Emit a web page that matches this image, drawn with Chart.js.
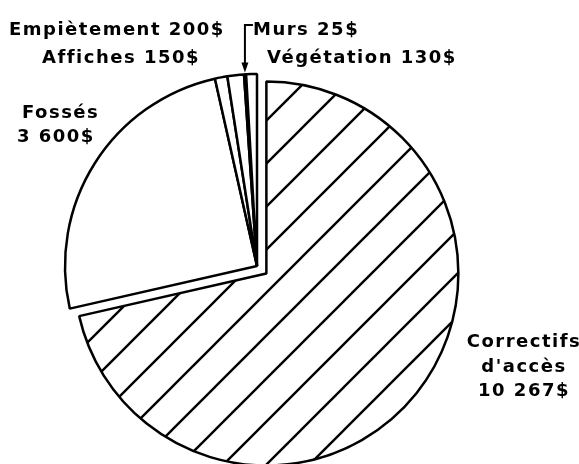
<!DOCTYPE html>
<html>
<head>
<meta charset="utf-8">
<script src="https://cdn.jsdelivr.net/npm/chart.js@4/dist/chart.umd.min.js"></script>
<style>
	html, body { margin: 0; padding: 0; background: #fff; }
	#wrap { width: 579px; height: 464px; }
</style>
</head>
<body>
<div id="wrap"><canvas id="myChart" width="579" height="464"></canvas></div>
<script>
const categories = ["Correctifs d'accès", "Fossés", "Affiches", "Empiètement", "Murs", "Végétation"];
const costs = [10267, 3600, 150, 200, 25, 130];
// label lines per slice, the amount is appended from costs
const labelLines = [["Correctifs", "d'accès"], ["Fossés"], ["Affiches"], ["Empiètement"], ["Murs"], ["Végétation"]];

const ctx = document.getElementById("myChart");
const FONT = "bold 18px 'DejaVu Sans'";

const money = (v) => String(v).replace(/\B(?=(\d{3})+(?!\d))/g, " ") + "$";

// diagonal hatch for the big slice
const makeHatch = () => {
	const size = 43;
	const c = document.createElement("canvas");
	c.width = size;
	c.height = size;
	const g = c.getContext("2d");
	g.fillStyle = "#fff";
	g.fillRect(0, 0, size, size);
	g.strokeStyle = "#000";
	g.lineWidth = 2.4;
	for (let k = 0; k <= 2; k++) {
		g.beginPath();
		g.moveTo(-2, k * size + 2);
		g.lineTo(k * size + 2, -2);
		g.stroke();
	}
	return g.createPattern(c, "repeat");
};

const fills = [makeHatch(), "#fff", "#fff", "#fff", "#000", "#fff"];
// pulled out along the bisector, in px (keeps the radius unchanged)
const explode = [12, 0, 0, 0, 0, 0];

// where each text block goes: [x, first baseline, align, line height, x of value line]
const labelPlaces = [
	[524, 347, "center", 24.5, 524],
	[22, 118, "left", 24, 17],
	[42, 63, "left", 0, 0],
	[9, 35, "left", 0, 0],
	[253, 35, "left", 0, 0],
	[267, 63, "left", 0, 0],
];

const explodePlugin = {
	id: "explode",
	afterDatasetUpdate: (chart, args) => {
		const meta = chart.getDatasetMeta(args.index);
		meta.data.forEach((arc, i) => {
			const d = explode[i] || 0;
			if (!d) return;
			const mid = (arc.startAngle + arc.endAngle) / 2;
			arc.x += Math.cos(mid) * d;
			arc.y += Math.sin(mid) * d;
		});
	},
};

const labelPlugin = {
	id: "labels",
	afterDraw: (chart) => {
		const c = chart.ctx;
		c.save();
		c.font = FONT;
		c.letterSpacing = "1.5px";
		c.fillStyle = "#000";
		c.textBaseline = "alphabetic";
		categories.forEach((name, i) => {
			const [x, y, align, lh, vx] = labelPlaces[i];
			const lines = labelLines[i];
			c.textAlign = align;
			if (lh > 0) {
				lines.forEach((t, j) => c.fillText(t, x, y + j * lh));
				c.fillText(money(costs[i]), vx, y + lines.length * lh);
			} else {
				c.fillText(lines.join(" ") + " " + money(costs[i]), x, y);
			}
		});

		// hooked arrow pointing at the Murs slice
		const arc = chart.getDatasetMeta(0).data[4];
		const mid = (arc.startAngle + arc.endAngle) / 2;
		const tipX = arc.x + Math.cos(mid) * (arc.outerRadius + 2);
		const tipY = arc.y + Math.sin(mid) * (arc.outerRadius + 2);
		c.strokeStyle = "#000";
		c.lineWidth = 2;
		c.beginPath();
		c.moveTo(tipX + 8, 25);
		c.lineTo(tipX, 25);
		c.lineTo(tipX, tipY - 8);
		c.stroke();
		c.beginPath();
		c.moveTo(tipX - 3.5, tipY - 10);
		c.lineTo(tipX + 3.5, tipY - 10);
		c.lineTo(tipX, tipY);
		c.closePath();
		c.fill();
		c.restore();
	},
};

const myChart = new Chart(ctx, {
	type: "pie",
	data: {
		labels: categories,
		datasets: [
			{
				data: costs,
				backgroundColor: fills,
				borderColor: "#000",
				borderWidth: 2.5,
				hoverOffset: 0,
			},
		],
	},
	options: {
		responsive: false,
		animation: false,
		events: [],
		radius: 192,
		layout: {
			padding: { left: 0, right: 65, top: 68, bottom: 0 },
		},
		plugins: {
			legend: { display: false },
			tooltip: { enabled: false },
		},
	},
	plugins: [explodePlugin, labelPlugin],
});
</script>
</body>
</html>
